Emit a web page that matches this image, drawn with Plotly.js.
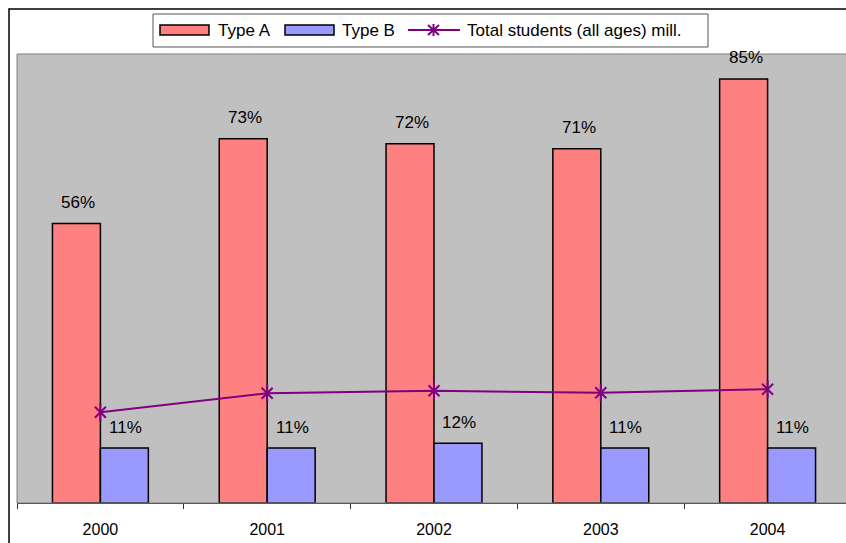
<!DOCTYPE html>
<html>
<head>
<meta charset="utf-8">
<script src="https://cdn.plot.ly/plotly-3.0.1.min.js"></script>
<style>
html,body{margin:0;padding:0;overflow:hidden;background:#fff;}
#chart{width:851px;height:543px;}
</style>
</head>
<body>
<div id="chart"></div>
<script>
const years = ['2000','2001','2002','2003','2004'];
const typeA = [56, 73, 72, 71, 85];
const typeB = [11, 11, 12, 11, 11];
const totalStudents = [18.2, 22.0, 22.5, 22.1, 22.8];
const labelsA = ['56%','73%','72%','71%','85%'];
const labelsB = ['11%','11%','12%','11%','11%'];
const seriesNames = ['Type A','Type B','Total students (all ages) mill.'];

const FONT = 'Arial, "Liberation Sans", sans-serif';
const COL_A = '#FF8080', COL_B = '#9999FF', COL_L = '#800080';

// page geometry (pixels) -> paper coords
const W = 851, H = 543, ML = 17, MR = 0, MT = 54, MB = 40;
const PW = W - ML - MR, PH = H - MT - MB;
const px = v => (v - ML) / PW;
const py = v => (H - MB - v) / PH;

const traces = [
  {type:'bar', name:seriesNames[0], x:years, y:typeA,
   marker:{color:COL_A, line:{color:'#000', width:1.5}}, hoverinfo:'skip'},
  {type:'bar', name:seriesNames[1], x:years, y:typeB,
   marker:{color:COL_B, line:{color:'#000', width:1.5}}, hoverinfo:'skip'},
  {type:'scatter', mode:'lines+markers', name:seriesNames[2],
   x:years, y:totalStudents, yaxis:'y2',
   line:{color:COL_L, width:2},
   marker:{symbol:'x-thin-open', size:11, color:COL_L, line:{color:COL_L, width:2}},
   hoverinfo:'skip'},
  {type:'scatter', mode:'markers', name:seriesNames[2], showlegend:false,
   x:years, y:totalStudents, yaxis:'y2',
   marker:{symbol:'line-ns-open', size:13, color:COL_L, line:{color:COL_L, width:2}},
   hoverinfo:'skip'}
];

const annotations = [];
years.forEach((yr,i)=>{
  annotations.push({x:i, y:typeA[i], xref:'x', yref:'y', text:labelsA[i], showarrow:false,
    xshift:-22, yshift:21, font:{family:FONT, size:17, color:'#000'}});
  annotations.push({x:i, y:typeB[i], xref:'x', yref:'y', text:labelsB[i], showarrow:false,
    xshift:25, yshift:21, font:{family:FONT, size:17, color:'#000'}});
});

// custom legend (Excel style wide swatches)
const legY = 30;
const legendTexts = [216, 340, 465];
seriesNames.forEach((n,i)=>{
  annotations.push({xref:'paper', yref:'paper', x:px(legendTexts[i]), y:py(legY),
    xanchor:'left', yanchor:'middle', text:n, showarrow:false,
    font:{family:FONT, size:17, color:'#000'}});
});

const shapes = [
  // plot area border
  {type:'rect', xref:'paper', yref:'paper', x0:0, x1:1, y0:0, y1:1,
   line:{color:'#808080', width:1}, fillcolor:'rgba(0,0,0,0)', layer:'above'},
  // chart area border
  {type:'rect', xref:'paper', yref:'paper', x0:px(9), x1:px(900), y0:py(600), y1:py(9),
   line:{color:'#000', width:1.5}, fillcolor:'rgba(0,0,0,0)', layer:'above'},
  // legend box
  {type:'rect', xref:'paper', yref:'paper', x0:px(153), x1:px(708), y0:py(47), y1:py(14),
   line:{color:'#555', width:1}, fillcolor:'#fff', layer:'above'},
  // swatches
  {type:'rect', xref:'paper', yref:'paper', x0:px(160), x1:px(209), y0:py(35), y1:py(25),
   line:{color:'#000', width:1.5}, fillcolor:COL_A, layer:'above'},
  {type:'rect', xref:'paper', yref:'paper', x0:px(285), x1:px(334), y0:py(35), y1:py(25),
   line:{color:'#000', width:1.5}, fillcolor:COL_B, layer:'above'},
  // line sample
  {type:'line', xref:'paper', yref:'paper', x0:px(408), x1:px(460), y0:py(legY), y1:py(legY),
   line:{color:COL_L, width:2}, layer:'above'},
  {type:'line', xref:'paper', yref:'paper', x0:px(428), x1:px(439), y0:py(legY-5), y1:py(legY+5),
   line:{color:COL_L, width:2}, layer:'above'},
  {type:'line', xref:'paper', yref:'paper', x0:px(428), x1:px(439), y0:py(legY+5), y1:py(legY-5),
   line:{color:COL_L, width:2}, layer:'above'},
  {type:'line', xref:'paper', yref:'paper', x0:px(433.5), x1:px(433.5), y0:py(legY-6), y1:py(legY+6),
   line:{color:COL_L, width:2}, layer:'above'}
];

const layout = {
  width:W, height:H,
  margin:{l:ML, r:MR, t:MT, b:MB, pad:0},
  paper_bgcolor:'#fff', plot_bgcolor:'#C0C0C0',
  font:{family:FONT, size:16, color:'#000'},
  barmode:'group', bargap:0.425, bargroupgap:0,
  showlegend:false,
  xaxis:{type:'category', range:[-0.5, 4.5], autorange:false, showline:true, linecolor:'#333', linewidth:1,
    ticks:'outside', ticklen:5, tickcolor:'#333', tickson:'boundaries', ticklabelstandoff:12,
    showgrid:false, zeroline:false, fixedrange:true,
    tickfont:{family:FONT, size:16, color:'#000'}},
  yaxis:{range:[0,90], visible:false, showgrid:false, zeroline:false, fixedrange:true},
  yaxis2:{range:[0,90], overlaying:'y', visible:false, showgrid:false, zeroline:false, fixedrange:true},
  shapes:shapes,
  annotations:annotations
};

Plotly.newPlot('chart', traces, layout, {displayModeBar:false, staticPlot:true});
</script>
</body>
</html>
